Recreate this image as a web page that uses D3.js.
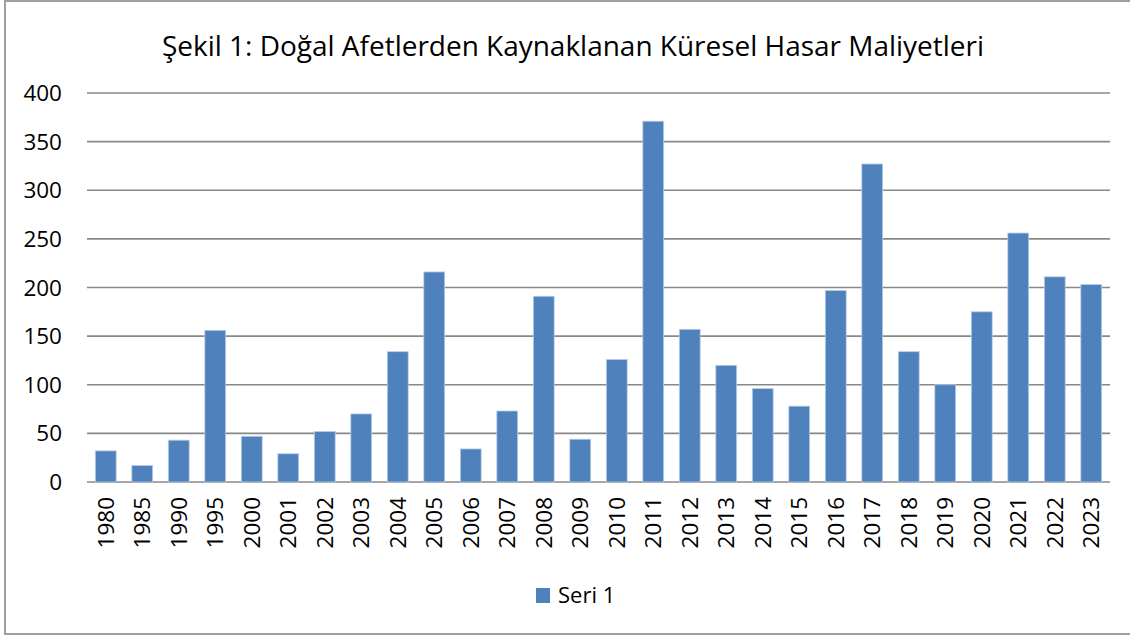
<!DOCTYPE html>
<html>
<head>
<meta charset="utf-8">
<script src="https://cdn.jsdelivr.net/npm/d3@7"></script>
<style>
  body { margin: 0; background: #fff; }
  text { font-family: "Open Sans", "Noto Sans", sans-serif; fill: #000; }
</style>
</head>
<body>
<svg id="chart" width="1130" height="637"></svg>
<script>
// chart data
const titleText = "Şekil 1: Doğal Afetlerden Kaynaklanan Küresel Hasar Maliyetleri";
const seriesName = "Seri 1";
const years = ["1980", "1985", "1990", "1995", "2000", "2001", "2002", "2003", "2004", "2005",
  "2006", "2007", "2008", "2009", "2010", "2011", "2012", "2013", "2014", "2015",
  "2016", "2017", "2018", "2019", "2020", "2021", "2022", "2023"];
const values = [32, 17, 43, 156, 47, 29, 52, 70, 134, 216,
  34, 73, 191, 44, 126, 371, 157, 120, 96, 78,
  197, 327, 134, 100, 175, 256, 211, 203];
const yTicks = [0, 50, 100, 150, 200, 250, 300, 350, 400];

const svg = d3.select("#chart");

// outer frame of the chart
svg.append("rect")
    .attr("x", 5).attr("y", 1)
    .attr("width", 1130).attr("height", 633)
    .attr("fill", "#fff")
    .attr("stroke", "#a0a0a0")
    .attr("stroke-width", 2);

// scales (gap width 75% like the spreadsheet chart)
const x = d3.scaleBand()
    .domain(years)
    .range([87.5, 1109.5])
    .paddingInner(0.75 / 1.75)
    .paddingOuter(0.375 / 1.75);

const y = d3.scaleLinear()
    .domain([0, 400])
    .range([482, 93]);

// gridlines
svg.append("g")
    .selectAll("line")
    .data(yTicks)
    .enter()
    .append("line")
    .attr("x1", 87)
    .attr("x2", 1110)
    .attr("y1", d => y(d))
    .attr("y2", d => y(d))
    .attr("stroke", "#888")
    .attr("stroke-width", 1.6);

// y axis labels
svg.append("g")
    .selectAll("text")
    .data(yTicks)
    .enter()
    .append("text")
    .attr("x", 62)
    .attr("y", d => y(d))
    .attr("dy", "0.36em")
    .attr("text-anchor", "end")
    .style("font-size", "22.5px")
    .text(d => d);

// bars
svg.append("g")
    .selectAll("rect")
    .data(values)
    .enter()
    .append("rect")
    .attr("x", (d, i) => x(years[i]))
    .attr("y", d => y(d))
    .attr("width", x.bandwidth())
    .attr("height", d => y(0) - y(d))
    .attr("fill", "#4f81bd")
    .attr("stroke", "#b9cde5")
    .attr("stroke-width", 0.8);

// x axis labels, rotated
svg.append("g")
    .selectAll("text")
    .data(years)
    .enter()
    .append("text")
    .attr("transform", d => `translate(${x(d) + x.bandwidth() / 2},497) rotate(-90)`)
    .attr("dy", "0.36em")
    .attr("text-anchor", "end")
    .style("font-size", "22.5px")
    .text(d => d);

// title
const title = svg.append("text")
    .attr("x", 573)
    .attr("y", 56)
    .attr("text-anchor", "middle")
    .style("font-size", "28px")
    .text(titleText);
// keep it to the width of the original title
const tl = title.node().getComputedTextLength();
if (tl > 822) {
    title.attr("textLength", 822).attr("lengthAdjust", "spacingAndGlyphs");
}

// legend
svg.append("rect")
    .attr("x", 536).attr("y", 588)
    .attr("width", 14).attr("height", 15)
    .attr("fill", "#4f81bd");
svg.append("text")
    .attr("x", 558)
    .attr("y", 603)
    .style("font-size", "22px")
    .text(seriesName);
</script>
</body>
</html>
